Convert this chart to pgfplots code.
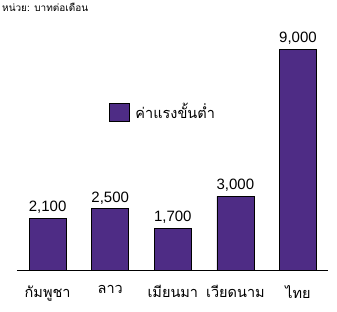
\documentclass[border=0pt]{standalone}
\usepackage{pgfplots}
\pgfplotsset{compat=1.18}
\usepackage{fontspec}
\setmainfont{Liberation Sans}
\newfontfamily\thaifont[Script=Thai]{Loma}
\definecolor{barpurple}{HTML}{4E2C85}
\begin{document}
\begin{tikzpicture}[x=1pt,y=1pt]
\useasboundingbox (0,0) rectangle (337,311);
\begin{axis}[
  at={(17pt,41pt)}, anchor=south west,
  scale only axis, width=311pt, height=221pt,
  ymin=0, ymax=9000, xmin=-0.49, xmax=4.48,
  axis x line*=bottom, axis y line=none,
  xtick=data, xticklabels={กัมพูชา,ลาว,เมียนมา,เวียดนาม,ไทย},
  xticklabel style={font=\thaifont\fontsize{14.5}{16}\selectfont, yshift=-12pt},
  major tick length=0pt,
  ytick=\empty,
  clip=false,
  bar width=37pt,
  nodes near coords,
  nodes near coords style={font=\fontsize{15}{17}\selectfont, /pgf/number format/.cd, fixed, 1000 sep={,}, assume math mode=true, /tikz/yshift=1pt},
  legend style={at={(0.285,0.715)}, anchor=west, draw=none, fill=none, font=\thaifont\fontsize{14.5}{16}\selectfont, legend cell align=left},
  legend image code/.code={\draw[#1, draw=black, fill=barpurple] (0pt,-9pt) rectangle (20pt,9pt);},
]
\addplot[ybar, fill=barpurple, draw=black, line width=0.6pt] coordinates {(0,2100) (1,2500) (2,1700) (3,3000) (4,9000)};
\addlegendentry{\hspace{4pt}ค่าแรงขั้นต่ำ}
\end{axis}
\node[anchor=north west, inner sep=0pt, font=\thaifont\fontsize{10}{12}\selectfont] at (2,308) {หน่วย: บาทต่อเดือน};
\end{tikzpicture}
\end{document}
